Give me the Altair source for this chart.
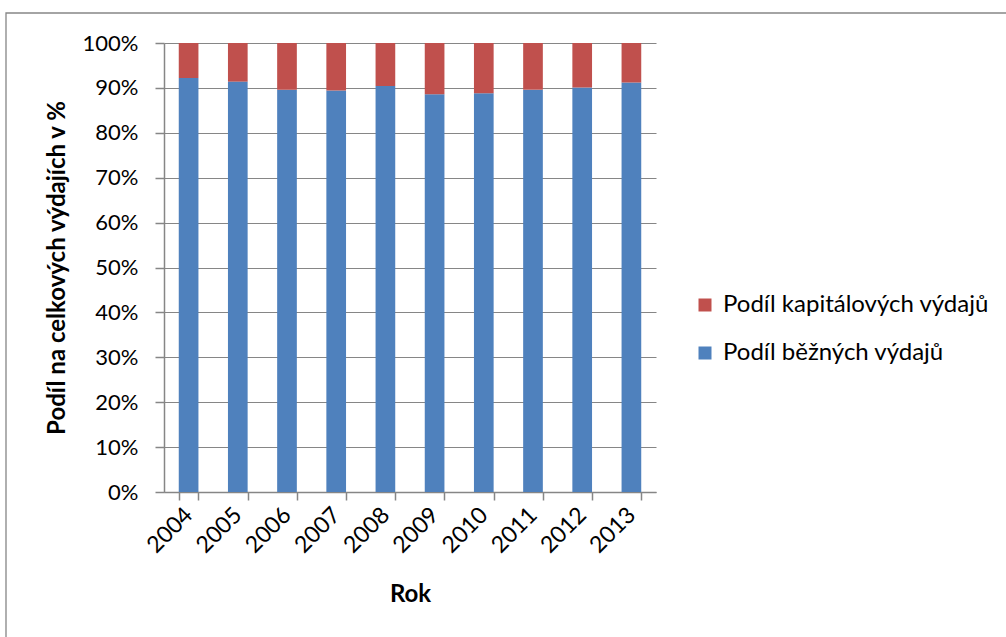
import altair as alt
import pandas as pd

# Share of current vs capital expenditure in total spending, 2004-2013
years = ["2004", "2005", "2006", "2007", "2008", "2009", "2010", "2011", "2012", "2013"]
current_share = [92.2, 91.4, 89.6, 89.4, 90.4, 88.6, 88.8, 89.6, 90.1, 91.2]
capital_share = [round(100 - v, 1) for v in current_share]

series_names = ["Podíl kapitálových výdajů", "Podíl běžných výdajů"]
series_colors = ["#C0504D", "#4F81BD"]

rows = []
for y, cur, cap in zip(years, current_share, capital_share):
    rows.append({"Rok": y, "serie": series_names[1], "podil": cur / 100, "poradi": 0})
    rows.append({"Rok": y, "serie": series_names[0], "podil": cap / 100, "poradi": 1})
df = pd.DataFrame(rows)

FONT = "Lato"
GRAY = "#868686"

bars = alt.Chart(df).mark_bar().encode(
    x=alt.X(
        "Rok:N",
        sort=years,
        scale=alt.Scale(paddingInner=0.6, paddingOuter=0.3),
        axis=alt.Axis(
            title="Rok",
            labelAngle=-45,
            labelAlign="right",
            labelBaseline="middle",
            labelPadding=11,
            tickBand="extent",
            tickSize=8,
            titlePadding=25,
            grid=False,
        ),
    ),
    y=alt.Y(
        "podil:Q",
        stack="zero",
        scale=alt.Scale(domain=[0, 1]),
        axis=alt.Axis(
            title="Podíl na celkových výdajích v %",
            format=".0%",
            values=[i / 10 for i in range(11)],
            tickSize=9,
            labelPadding=17,
            labelFontSize=22,
            titlePadding=13,
            grid=True,
        ),
    ),
    color=alt.Color(
        "serie:N",
        scale=alt.Scale(domain=series_names, range=series_colors),
        legend=alt.Legend(
            title=None,
            orient="none",
            legendX=529,
            legendY=250,
            symbolType="square",
            symbolSize=169,
            symbolStrokeWidth=0,
            labelFontSize=24,
            labelFont=FONT,
            labelColor="black",
            labelLimit=400,
            rowPadding=24,
            labelOffset=6,
        ),
    ),
    order=alt.Order("poradi:Q", sort="ascending"),
)

frame = alt.Chart(alt.Data(values=[{}])).mark_rect(
    fill=None, stroke=GRAY, strokeWidth=1.3
).encode(
    x=alt.value(-158),
    x2=alt.value(860),
    y=alt.value(-30),
    y2=alt.value(620),
)

chart = (
    alt.layer(frame, bars)
    .properties(
        width=492,
        height=449,
        padding={"left": 164, "top": 43, "right": 350, "bottom": 145},
        autosize=alt.AutoSizeParams(type="none"),
        background="white",
    )
    .configure_view(stroke=None)
    .configure_axis(
        labelFont=FONT,
        labelFontSize=23,
        labelColor="black",
        titleFont=FONT,
        titleFontSize=24,
        titleFontWeight="bold",
        titleColor="black",
        domainColor=GRAY,
        domainWidth=1.5,
        tickColor=GRAY,
        tickWidth=1.5,
        gridColor=GRAY,
        gridWidth=1.2,
    )
)

chart.save("out.html", embed_options={"renderer": "svg", "actions": False})
